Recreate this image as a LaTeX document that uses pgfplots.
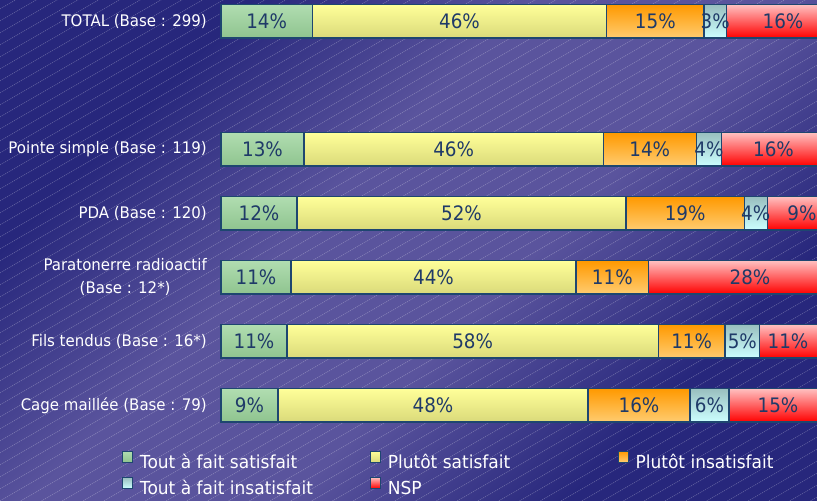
\documentclass[border=0pt]{standalone}
\usepackage{fontspec}
\setmainfont{DejaVu Sans}
\newfontfamily\pctfont{DejaVu Sans}[FakeStretch=0.92]
\newfontfamily\labfont{DejaVu Sans}[FakeStretch=0.94]
\newfontfamily\legfont{DejaVu Sans}[FakeStretch=0.95]
\usepackage{pgfplots}
\usepackage{pgfplotstable}
\pgfplotsset{compat=1.18}
\definecolor{bgdark}{HTML}{27277C}
\definecolor{bglight}{HTML}{5A549D}
\definecolor{gtop}{HTML}{B0DDB0}\definecolor{gbot}{HTML}{8FC48F}
\definecolor{ytop}{HTML}{FFFF99}\definecolor{ybot}{HTML}{DADA7A}
\definecolor{otop}{HTML}{FF9900}\definecolor{obot}{HTML}{FFCC70}
\definecolor{ctop}{HTML}{99BFBF}\definecolor{cbot}{HTML}{CCFFFF}
\definecolor{rtop}{HTML}{FFC0C0}\definecolor{rbot}{HTML}{FF0000}
\definecolor{bord}{HTML}{1E4670}
\definecolor{labcol}{HTML}{1F3A68}

\pgfdeclareverticalshading{bgsh}{100bp}{color(0bp)=(bgdark); color(28bp)=(bgdark); color(43bp)=(bglight); color(57bp)=(bglight); color(72bp)=(bgdark); color(100bp)=(bgdark)}

% label positions (centre of each segment, in %)
\pgfplotstableread{
x y lab
7.08 6 14
36.98 6 46
67.34 6 15
76.63 6 3
87.13 6 16
6.43 4 13
36.07 4 46
66.48 4 14
75.66 4 4
85.66 4 16
5.89 3 12
37.29 3 52
71.96 3 19
82.91 3 4
90.08 3 9
5.43 2 11
32.95 2 44
60.67 2 11
82.02 2 28
5.12 1 11
39.02 1 58
72.97 1 11
80.83 1 5
87.91 1 11
4.42 0 9
32.87 0 48
64.81 0 16
75.74 0 6
86.36 0 15
}\labels

\pgfplotsset{
  geom/.style={at={(219.7bp,63.7bp)}, anchor=south west, scale only axis,
    width=597.27bp, height=437.1bp, xmin=-0.2, xmax=92.4, ymin=-0.5, ymax=6.33},
  legsq/.style={legend image code/.code={\draw[##1] (0bp,0bp) rectangle (10bp,11bp);}},
  bb/.style={forget plot, xbar, bar shift=0pt, bar width=0.52, draw=bord, line width=1.2bp},
  sG/.style={bb, top color=gtop, bottom color=gbot},
  sY/.style={bb, top color=ytop, bottom color=ybot},
  sO/.style={bb, top color=otop, bottom color=obot},
  sC/.style={bb, top color=ctop, bottom color=cbot},
  sR/.style={bb, top color=rtop, bottom color=rbot},
}

\begin{document}
\begin{tikzpicture}
\path[use as bounding box, shading=bgsh, shading angle=45] (0,0) rectangle (817bp,501bp);
\begin{scope}
\clip (0,0) rectangle (817bp,501bp);
\foreach \c in {-480,-468,...,504}{
  \draw[white, opacity=0.4, line width=0.5bp, dash pattern=on 1bp off 1bp] (0bp,\c bp) -- (817bp,\c bp+471.7bp);
}
\end{scope}
\begin{axis}[geom,
  xbar, bar width=0.52,
  axis line style={draw=none}, major tick length=0pt,
  xtick=\empty, ytick={0,1,2,3,4,6},
  yticklabels={Cage maillée (Base : 79),Fils tendus (Base : 16*),{Paratonerre radioactif\\(Base : 12*)},PDA (Base : 120),Pointe simple (Base : 119),TOTAL (Base : 299)},
  yticklabel style={anchor=east, align=center, inner sep=0pt, xshift=-12.7bp, text=white, font=\labfont\fontsize{16}{23}\selectfont},
  legend columns=3, legend cell align=left,
  legend style={at={(axis description cs:-0.1636,-0.0302)}, anchor=north west, draw=none, fill=none, inner sep=0pt,
    row sep=7bp, font=\legfont\fontsize{18}{20}\selectfont, text=white, nodes={inner sep=0pt},
    /tikz/every odd column/.append style={column sep=7bp}},
]
% cumulative ends of each segment, drawn from the right-most segment to the left-most
% TOTAL
\addplot[sR] coordinates {(94.37,6)};
\addplot[sC] coordinates {(78.37,6)};
\addplot[sO] coordinates {(74.88,6)};
\addplot[sY] coordinates {(59.80,6)};
\addplot[sG] coordinates {(14.16,6)};
% Pointe simple
\addplot[sR] coordinates {(93.63,4)};
\addplot[sC] coordinates {(77.63,4)};
\addplot[sO] coordinates {(73.69,4)};
\addplot[sY] coordinates {(59.27,4)};
\addplot[sG] coordinates {(12.87,4)};
% PDA
\addplot[sR] coordinates {(93.69,3)};
\addplot[sC] coordinates {(84.69,3)};
\addplot[sO] coordinates {(81.13,3)};
\addplot[sY] coordinates {(62.79,3)};
\addplot[sG] coordinates {(11.78,3)};
% Paratonerre radioactif
\addplot[sR] coordinates {(94.31,2)};
\addplot[sO] coordinates {(66.31,2)};
\addplot[sY] coordinates {(55.04,2)};
\addplot[sG] coordinates {(10.85,2)};
% Fils tendus
\addplot[sR] coordinates {(94.52,1)};
\addplot[sC] coordinates {(83.52,1)};
\addplot[sO] coordinates {(78.14,1)};
\addplot[sY] coordinates {(67.80,1)};
\addplot[sG] coordinates {(10.23,1)};
% Cage maillee
\addplot[sR] coordinates {(93.76,0)};
\addplot[sC] coordinates {(78.76,0)};
\addplot[sO] coordinates {(72.71,0)};
\addplot[sY] coordinates {(56.90,0)};
\addplot[sG] coordinates {(8.84,0)};

\addlegendimage{legsq, draw=bord, line width=0.8bp, top color=gtop, bottom color=gbot}
\addlegendentry{\makebox[230bp][l]{Tout à fait satisfait}}
\addlegendimage{legsq, draw=bord, line width=0.8bp, top color=ytop, bottom color=ybot}
\addlegendentry{\makebox[230bp][l]{Plutôt satisfait}}
\addlegendimage{legsq, draw=bord, line width=0.8bp, top color=otop, bottom color=obot}
\addlegendentry{Plutôt insatisfait}
\addlegendimage{legsq, draw=bord, line width=0.8bp, top color=ctop, bottom color=cbot}
\addlegendentry{\makebox[230bp][l]{Tout à fait insatisfait}}
\addlegendimage{legsq, draw=bord, line width=0.8bp, top color=rtop, bottom color=rbot}
\addlegendentry{\makebox[230bp][l]{NSP}}
\end{axis}
\begin{axis}[geom, hide axis, clip=false]
\addplot[draw=none, nodes near coords={\pgfplotspointmeta\%}, point meta=explicit symbolic,
  nodes near coords style={anchor=center, inner sep=0pt, font=\pctfont\fontsize{20}{22}\selectfont, text=labcol}]
  table[x=x,y=y,meta=lab]{\labels};
\end{axis}
\end{tikzpicture}
\end{document}
